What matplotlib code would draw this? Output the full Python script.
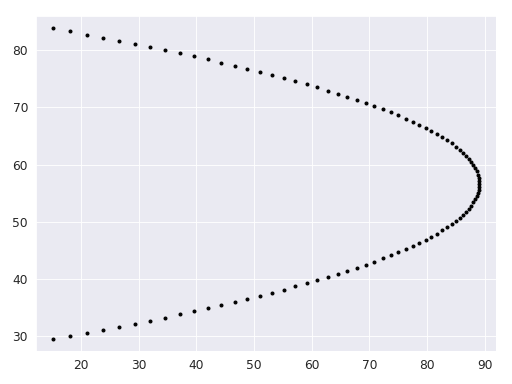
import matplotlib
matplotlib.use("Agg")
import matplotlib.pyplot as plt
import seaborn as sns

# Points, top of the curve to the bottom.
x_vals = [15.20, 18.15, 21.09, 23.86, 26.64, 29.41, 32.01, 34.61, 37.21, 39.64,
          42.06, 44.32, 46.74, 48.82, 51.07, 53.15, 55.23, 57.14, 59.12, 60.95,
          62.86, 64.59, 66.15, 67.89, 69.45, 70.83, 72.39, 73.78, 75.06, 76.38,
          77.59, 78.63, 79.84, 80.71, 81.75, 82.62, 83.48, 84.35, 85.04, 85.74,
          86.26, 86.78, 87.30, 87.64, 87.99, 88.34, 88.68, 88.86, 89.03, 89.05,
          89.05,
          89.05, 89.03, 88.86, 88.68, 88.34, 87.99, 87.64, 87.30, 86.78, 86.26,
          85.74, 85.04, 84.35, 83.48, 82.62, 81.75, 80.71, 79.84, 78.63, 77.59,
          76.38, 75.06, 73.78, 72.39, 70.83, 69.45, 67.89, 66.15, 64.59, 62.86,
          60.95, 59.12, 57.14, 55.23, 53.15, 51.07, 48.82, 46.74, 44.32, 42.06,
          39.64, 37.21, 34.61, 32.01, 29.41, 26.64, 23.86, 21.09, 18.15, 15.20]

y_vals = [83.85, 83.31, 82.76, 82.22, 81.67, 81.13, 80.58, 80.04, 79.49, 78.95,
          78.41, 77.86, 77.32, 76.77, 76.23, 75.68, 75.14, 74.59, 74.05, 73.50,
          72.96, 72.42, 71.87, 71.33, 70.78, 70.24, 69.69, 69.15, 68.60, 68.06,
          67.52, 66.97, 66.43, 65.88, 65.34, 64.79, 64.25, 63.70, 63.16, 62.61,
          62.07, 61.53, 60.98, 60.44, 59.89, 59.35, 58.80, 58.26, 57.71, 57.17,
          56.63,
          56.08, 55.54, 54.99, 54.45, 53.90, 53.36, 52.81, 52.27, 51.72, 51.18,
          50.64, 50.09, 49.55, 49.00, 48.46, 47.91, 47.37, 46.82, 46.28, 45.73,
          45.19, 44.65, 44.10, 43.56, 43.01, 42.47, 41.92, 41.38, 40.83, 40.29,
          39.75, 39.20, 38.66, 38.11, 37.57, 37.02, 36.48, 35.93, 35.39, 34.84,
          34.30, 33.76, 33.21, 32.67, 32.12, 31.58, 31.03, 30.49, 29.94, 29.40]

sns.set_style("darkgrid")

fig, ax = plt.subplots(figsize=(6.4, 4.8), dpi=80)
fig.subplots_adjust(left=0.070, right=0.968, bottom=0.086, top=0.958)

ax.plot(x_vals, y_vals, "k.", markersize=5.2)

ax.set_xlim(12.2, 91.9)
ax.set_ylim(27.35, 86.0)
ax.tick_params(labelsize=11)

fig.savefig("out.png", dpi=80)
